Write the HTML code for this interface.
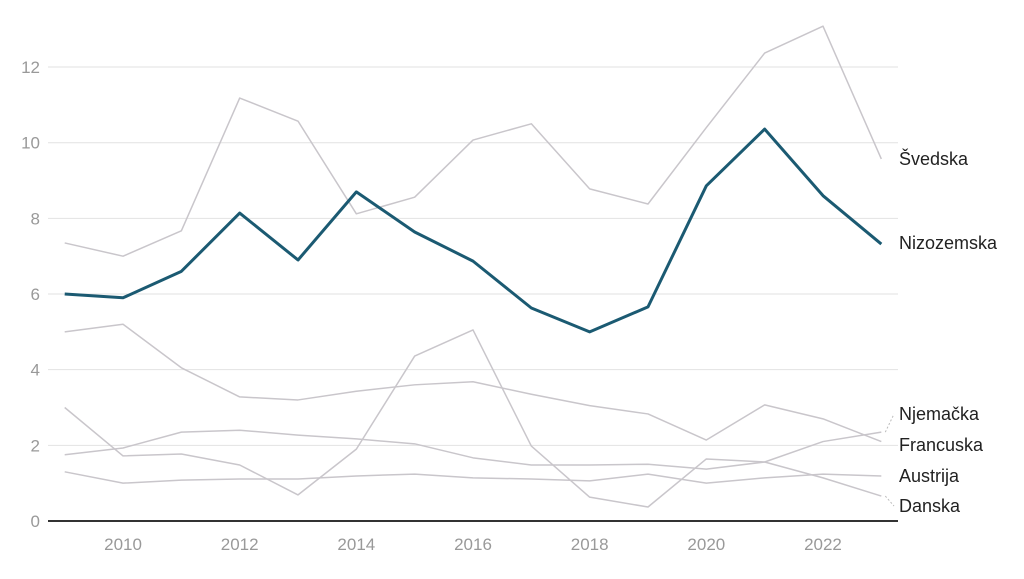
<!DOCTYPE html>
<html><head><meta charset="utf-8"><style>
body{margin:0;background:#fff;}
svg{font-family:"Liberation Sans",Roboto,sans-serif;}
</style></head><body>
<svg id="chart" width="1024" height="574" viewBox="0 0 1024 574">
<g id="grid"></g>
<g id="ylab"></g>
<g id="xlab"></g>
<g id="lines"></g>
<g id="labels"></g>
<line x1="48" x2="898" y1="521" y2="521" stroke="#333" stroke-width="2"/>
</svg>
<script>
const years=[2009,2010,2011,2012,2013,2014,2015,2016,2017,2018,2019,2020,2021,2022,2023];
const yTicks=[0,2,4,6,8,10,12];
const xTicks=[2010,2012,2014,2016,2018,2020,2022];
const svedska=[7.35,7.0,7.67,11.18,10.57,8.12,8.56,10.07,10.5,8.78,8.38,10.4,12.37,13.08,9.57];
const nizozemska=[6.0,5.9,6.6,8.14,6.9,8.7,7.64,6.87,5.63,5.0,5.66,8.86,10.36,8.6,7.32];
const njemacka=[1.75,1.93,2.35,2.4,2.27,2.17,2.04,1.67,1.48,1.48,1.5,1.37,1.56,2.1,2.35];
const francuska=[5.0,5.2,4.05,3.28,3.2,3.43,3.6,3.68,3.35,3.05,2.83,2.14,3.07,2.7,2.1];
const austrija=[1.3,1.0,1.08,1.11,1.11,1.19,1.24,1.14,1.11,1.06,1.24,1.0,1.14,1.24,1.19];
const danska=[3.0,1.72,1.77,1.48,0.69,1.9,4.36,5.05,1.98,0.63,0.37,1.64,1.56,1.14,0.66];
const seriesNames=["Švedska","Nizozemska","Njemačka","Francuska","Austrija","Danska"];
const labelY=[165,249,420,451,482,512];

const NS="http://www.w3.org/2000/svg";
const xS=y=>64.7+(y-2009)*58.33;
const yS=v=>521-v*37.83;
function mk(t,a,p){const e=document.createElementNS(NS,t);for(const k in a)e.setAttribute(k,a[k]);p.appendChild(e);return e;}
const grid=document.getElementById('grid'),ylab=document.getElementById('ylab'),xlab=document.getElementById('xlab');
yTicks.forEach(v=>{
 if(v>0){const l=mk('line',{x1:48,x2:898,y1:yS(v),y2:yS(v),stroke:'#e2e2e2','stroke-width':1},grid);
 
 }
 const t=mk('text',{x:40,y:yS(v)+6,'text-anchor':'end','font-size':17,fill:'#999'},ylab);
 
 
 t.textContent=v;
});
xTicks.forEach(v=>{
 const t=mk('text',{x:xS(v),y:550,'text-anchor':'middle','font-size':17,fill:'#999'},xlab);
 
 
 t.textContent=v;
});
const data=[svedska,nizozemska,njemacka,francuska,austrija,danska];
const lines=document.getElementById('lines'),labs=document.getElementById('labels');
const order=[0,2,3,4,5,1];
order.forEach(i=>{
 const d=data[i];const hi=i===1;
 const pts=d.map((v,j)=>xS(years[j])+','+yS(v)).join(' ');
 const p=mk('polyline',{points:pts,fill:'none',stroke:hi?'#1b5a72':'#c9c6cb','stroke-width':hi?3:1.5,'stroke-linejoin':'round'},lines);
 
 
 const endY=yS(d[d.length-1]);
 if(Math.abs(endY-(labelY[i]-6))>8){
  const c=mk('line',{x1:xS(2023)+4,y1:endY,x2:894,y2:labelY[i]-6,stroke:'#bbb','stroke-dasharray':'2,2'},labs);
  
  
 }
 const t=mk('text',{x:899,y:labelY[i],'font-size':18,fill:'#222'},labs);
 
 
 t.textContent=seriesNames[i];
});
</script>
</body></html>
